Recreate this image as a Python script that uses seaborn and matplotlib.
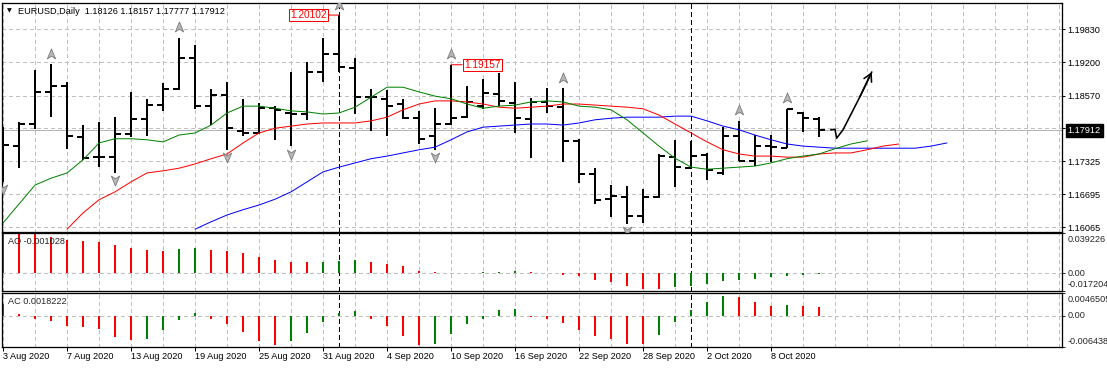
import numpy as np
import pandas as pd
import matplotlib
matplotlib.use("Agg")
import matplotlib.pyplot as plt
import matplotlib.transforms as mtransforms
from matplotlib.path import Path
import seaborn as sns

# ---------------- data ----------------
symbol_title = "EURUSD,Daily"
last_ohlc = ["1.18126", "1.18157", "1.17777", "1.17912"]

opens = [1.1773, 1.1761, 1.1803, 1.1864, 1.1875, 1.1778, 1.1740, 1.1740, 1.1784, 1.1813,
         1.1839, 1.1870, 1.1929, 1.1837, 1.1858, 1.1790, 1.1786, 1.1833, 1.1824, 1.1822,
         1.1902, 1.1936, 1.1910, 1.1854, 1.1851, 1.1841, 1.1814, 1.1780, 1.1803, 1.1816,
         1.1837, 1.1860, 1.1843, 1.1813, 1.1845, 1.1835, 1.1771, 1.1708, 1.1660, 1.1664,
         1.1628, 1.1664, 1.1740, 1.1719, 1.1744, 1.1710, 1.1780, 1.1733, 1.1761, 1.1757,
         1.1824, 1.18126]
highs = [1.1797, 1.1807, 1.1906, 1.1917, 1.1883, 1.1801, 1.1807, 1.1816, 1.1864, 1.1851,
         1.1881, 1.1967, 1.1953, 1.1870, 1.1883, 1.1851, 1.1843, 1.1837, 1.1902, 1.1921,
         1.1967, 1.20102, 1.1929, 1.1870, 1.1868, 1.1851, 1.1828, 1.1833, 1.19157, 1.1875,
         1.1889, 1.1900, 1.1883, 1.1853, 1.1871, 1.1871, 1.1775, 1.1719, 1.1687, 1.1685,
         1.1679, 1.1746, 1.1773, 1.1771, 1.1748, 1.1797, 1.1809, 1.1782, 1.1782, 1.1832,
         1.1826, 1.18157]
lows = [1.1693, 1.1719, 1.1794, 1.1816, 1.1756, 1.1735, 1.1721, 1.1710, 1.1778, 1.1780,
        1.1828, 1.1868, 1.1832, 1.1801, 1.1754, 1.1780, 1.1784, 1.1773, 1.1761, 1.1811,
        1.1883, 1.1902, 1.1822, 1.1790, 1.1780, 1.1813, 1.1765, 1.1754, 1.1801, 1.1814,
        1.1832, 1.1837, 1.1786, 1.1738, 1.1824, 1.1731, 1.1691, 1.1651, 1.1626, 1.1613,
        1.1615, 1.1662, 1.1683, 1.1719, 1.1696, 1.1706, 1.1733, 1.1723, 1.1731, 1.1757,
        1.1788, 1.17777]
closes = [1.1763, 1.1803, 1.1864, 1.1875, 1.1780, 1.1738, 1.1740, 1.1784, 1.1813, 1.1839,
          1.1870, 1.1929, 1.1837, 1.1858, 1.1795, 1.1786, 1.1833, 1.1830, 1.1822, 1.1902,
          1.1936, 1.1911, 1.1854, 1.1854, 1.1837, 1.1814, 1.1775, 1.1803, 1.1814, 1.1845,
          1.1862, 1.1847, 1.1814, 1.1845, 1.1837, 1.1771, 1.1708, 1.1659, 1.1666, 1.1628,
          1.1664, 1.1742, 1.1721, 1.1742, 1.1716, 1.1780, 1.1733, 1.1761, 1.1759, 1.1832,
          1.1814, 1.17912]

# Alligator lines (value per bar index, starting at the given bar)
lips_start = 0
lips = [1.1615, 1.1651, 1.1687, 1.1700, 1.1710, 1.1735, 1.1767, 1.1775, 1.1775, 1.1773,
        1.1769, 1.1782, 1.1786, 1.1801, 1.1824, 1.1837, 1.1837, 1.1833, 1.1828, 1.1826,
        1.1822, 1.1824, 1.1835, 1.1854, 1.1873, 1.1873, 1.1864, 1.1856, 1.1851, 1.1841,
        1.1833, 1.1837, 1.1839, 1.1845, 1.1847, 1.1845, 1.1837, 1.1835, 1.1830, 1.1811,
        1.1786, 1.1761, 1.1738, 1.1721, 1.1717, 1.1719, 1.1721, 1.1723, 1.1729, 1.1737,
        1.1742, 1.1746, 1.1756, 1.1765, 1.1771]
teeth_start = 4
teeth = [1.1603, 1.1634, 1.1659, 1.1674, 1.1693, 1.1710, 1.1714, 1.1719, 1.1727, 1.1737,
         1.1746, 1.1767, 1.1786, 1.1795, 1.1799, 1.1803, 1.1805, 1.1805, 1.1805, 1.1809,
         1.1816, 1.1830, 1.1841, 1.1847, 1.1847, 1.1845, 1.1841, 1.1835, 1.1833, 1.1835,
         1.1837, 1.1841, 1.1841, 1.1839, 1.1837, 1.1835, 1.1832, 1.1820, 1.1803, 1.1786,
         1.1769, 1.1754, 1.1746, 1.1742, 1.1742, 1.1740, 1.1740, 1.1746, 1.1748, 1.1748,
         1.1754, 1.1761, 1.1765]
jaw_start = 12
jaw = [1.1603, 1.1617, 1.1630, 1.1640, 1.1649, 1.1660, 1.1674, 1.1693, 1.1712, 1.1721,
       1.1729, 1.1737, 1.1742, 1.1748, 1.1754, 1.1759, 1.1773, 1.1788, 1.1797, 1.1799,
       1.1801, 1.1803, 1.1803, 1.1801, 1.1805, 1.1811, 1.1814, 1.1816, 1.1816, 1.1816,
       1.1818, 1.1818, 1.1809, 1.1799, 1.1792, 1.1782, 1.1773, 1.1765, 1.1761, 1.1759,
       1.1757, 1.1757, 1.1757, 1.1757, 1.1757, 1.1757, 1.1761, 1.1767]

fractals_up = [3, 11, 21, 28, 35, 46, 49]
fractals_down = [0, 7, 14, 18, 27, 39]

ao = [0.0410, 0.0400, 0.0392, 0.0352, 0.0320, 0.0310, 0.0300, 0.0271, 0.0245, 0.0222,
      0.0218, 0.0232, 0.0245, 0.0222, 0.0212, 0.0193, 0.0156, 0.0124, 0.0113, 0.0104,
      0.0113, 0.0123, 0.0126, 0.0113, 0.0091, 0.0065, 0.0025, 0.0008, 0.0004, 0.0005,
      0.0007, 0.0011, 0.0024, 0.0015, 0.0005, -0.0016, -0.0033, -0.0065, -0.0085, -0.0124,
      -0.0153, -0.0156, -0.0140, -0.0124, -0.0104, -0.0075, -0.0065, -0.0055, -0.0042, -0.0032,
      -0.0020, -0.001028]
ac = [0.0024, 0.0004, -0.0006, -0.0010, -0.0022, -0.0024, -0.0028, -0.0043, -0.0049, -0.0047,
      -0.0030, -0.0008, 0.0006, -0.0006, -0.0018, -0.0033, -0.0051, -0.0059, -0.0051, -0.0035,
      -0.0014, 0.0006, 0.0009, -0.0006, -0.0022, -0.0041, -0.0059, -0.0057, -0.0037, -0.0018,
      -0.0006, 0.0011, 0.0013, -0.0002, -0.0006, -0.0016, -0.0030, -0.0041, -0.0047, -0.0057,
      -0.0058, -0.0039, -0.0014, 0.0012, 0.0028, 0.0039, 0.0037, 0.0028, 0.0020, 0.0021,
      0.0020, 0.0018222]
ao_label = "AO -0.001028"
ac_label = "AC 0.0018222"
ao_range = [-0.017204, 0.039226]
ac_range = [-0.006438, 0.0046505]
ao_range_labels = ["-0.017204", "0.039226"]
ac_range_labels = ["-0.006438", "0.0046505"]

price_ticks = [1.19830, 1.19200, 1.18570, 1.179475, 1.17325, 1.16695, 1.16065]
price_tick_labels = ["1.19830", "1.19200", "1.18570", "", "1.17325", "1.16695", "1.16065"]
price_range = [1.15982, 1.20337]
bid_price = 1.17912

date_labels = ["3 Aug 2020", "7 Aug 2020", "13 Aug 2020", "19 Aug 2020", "25 Aug 2020",
               "31 Aug 2020", "4 Sep 2020", "10 Sep 2020", "16 Sep 2020", "22 Sep 2020",
               "28 Sep 2020", "2 Oct 2020", "8 Oct 2020"]
month_separators = [21, 43]
price_marks = [(21, 1.20102, "1.20102", -31), (28, 1.19157, "1.19157", 31)]

# hand-drawn forecast arrow (bar index, price)
arrow_x = [51.73, 52.0, 52.1, 52.5, 53.04, 53.56, 54.3]
arrow_y = [1.1792, 1.1793, 1.1776, 1.1792, 1.1824, 1.1855, 1.1902]

# ---------------- style ----------------
sns.set_theme(style="white")
plt.rcParams['font.family'] = ['Liberation Sans', 'DejaVu Sans']
plt.rcParams['lines.scale_dashes'] = False

PX = 0.72  # points per pixel at dpi 100
W_PX, H_PX = 1107, 368
FS = 6.6
GRID_C = '#c0c0c0'
DASH = (0, (2.2, 2.2))

fig = plt.figure(figsize=(W_PX / 100, H_PX / 100), dpi=100)
fig.patch.set_facecolor('white')


def rect(top, bottom, left=1.5, right=1061.7):
    return [left / W_PX, 1 - bottom / H_PX, (right - left) / W_PX, (bottom - top) / H_PX]


ax = fig.add_axes(rect(2.7, 231.7))
ax_ao = fig.add_axes(rect(233.0, 290.7))
ax_ac = fig.add_axes(rect(292.7, 347.3))
axes = [ax, ax_ao, ax_ac]

n = len(opens)
bars = np.arange(n)
XMAX = 66.17

for a in axes:
    a.set_facecolor('white')
    a.set_xlim(-0.1, XMAX)
    for s in a.spines.values():
        s.set_color('black')
        s.set_linewidth(1.3 * PX)
    a.set_xticks(np.arange(0, 49, 4))
    a.set_xticks(np.arange(0, 67, 2), minor=True)
    a.grid(False)
    for gx in np.arange(0, 67, 2):
        a.axvline(gx, color=GRID_C, lw=1 * PX, ls=DASH, zorder=0.5, antialiased=False)
    for sx in month_separators:
        a.axvline(sx, color='black', lw=1 * PX, ls=(0, (2.9, 2.2)), zorder=1.2, antialiased=False)

# ---------------- main price panel ----------------
ax.set_ylim(*price_range)
for gy in price_ticks:
    ax.axhline(gy, color=GRID_C, lw=1 * PX, ls=DASH, zorder=0.5, antialiased=False)
ax.axhline(bid_price, color='#b4b4b4', lw=1 * PX, zorder=0.6, antialiased=False)

ax.vlines(bars, lows, highs, color='black', lw=2 * PX, capstyle='butt', zorder=2, antialiased=False)
ax.hlines(opens, bars - 0.36, bars, color='black', lw=2 * PX, capstyle='butt', zorder=2, antialiased=False)
ax.hlines(closes, bars, bars + 0.36, color='black', lw=2 * PX, capstyle='butt', zorder=2, antialiased=False)

for vals, start, col in [(jaw, jaw_start, '#0000ff'), (teeth, teeth_start, '#ff0000'), (lips, lips_start, '#008000')]:
    d = pd.DataFrame({'bar': np.arange(start, start + len(vals)), 'v': vals})
    sns.lineplot(data=d, x='bar', y='v', color=col, lw=1.0 * PX, ax=ax, legend=False, zorder=3)
ax.set_xlabel('')
ax.set_ylabel('')

# fractal arrows
up_path = Path([(0, 1), (0.75, -0.8), (0, -0.3), (-0.75, -0.8), (0, 1)],
               [Path.MOVETO, Path.LINETO, Path.LINETO, Path.LINETO, Path.CLOSEPOLY])
down_path = Path([(0, -1), (0.75, 0.8), (0, 0.3), (-0.75, 0.8), (0, -1)],
                 [Path.MOVETO, Path.LINETO, Path.LINETO, Path.LINETO, Path.CLOSEPOLY])
tr_up = mtransforms.offset_copy(ax.transData, fig=fig, x=0, y=10.5, units='dots')
tr_dn = mtransforms.offset_copy(ax.transData, fig=fig, x=0, y=-7.5, units='dots')
ax.plot(fractals_up, [highs[i] for i in fractals_up], ls='none', marker=up_path, ms=8,
        mfc='#b8b8b8', mec='#7a7a7a', mew=0.6, transform=tr_up, zorder=4)
ax.plot(fractals_down, [lows[i] for i in fractals_down], ls='none', marker=down_path, ms=8,
        mfc='#b8b8b8', mec='#7a7a7a', mew=0.6, transform=tr_dn, zorder=4)

# price labels at extremes
for bx, py, txt, off in price_marks:
    ax.annotate(txt, xy=(bx, py), xytext=(off, 0), textcoords='offset pixels',
                ha='center', va='center', fontsize=7.3, color='#ff0000', zorder=5,
                bbox=dict(boxstyle='square,pad=0.12', fc='white', ec='#ff0000', lw=1 * PX),
                arrowprops=dict(arrowstyle='-', color='#ff0000', lw=1 * PX, shrinkA=0, shrinkB=0))

# hand-drawn arrow
ax.plot(arrow_x, arrow_y, color='black', lw=1.6 * PX, zorder=5, solid_capstyle='round')
ax.annotate('', xy=(arrow_x[-1], arrow_y[-1]), xytext=(arrow_x[-2], arrow_y[-2]),
            arrowprops=dict(arrowstyle='->,head_length=0.55,head_width=0.3', color='black',
                            lw=1.6 * PX, shrinkA=0, shrinkB=0, mutation_scale=10), zorder=5)

ax.yaxis.tick_right()
ax.set_yticks(price_ticks)
ax.set_yticklabels(price_tick_labels)
ax.tick_params(axis='y', which='major', direction='out', length=3 * PX, width=1 * PX,
               pad=3 * PX, labelsize=FS, right=True, left=False, colors='black')
ax.tick_params(axis='x', which='both', length=0, labelbottom=False)

# current price box
ax.annotate(f"{bid_price:.5f}", xy=(1, bid_price), xycoords=('axes fraction', 'data'),
            xytext=(6, 0), textcoords='offset pixels', ha='left', va='center',
            fontsize=FS, color='white', annotation_clip=False,
            bbox=dict(boxstyle='square,pad=0.2', fc='black', ec='black'))

# header
ax.annotate('\u25BC', xy=(0, 1), xycoords='axes fraction', xytext=(7.5, -8.3),
            textcoords='offset pixels', ha='center', va='center', fontsize=4.5,
            color='black', family='DejaVu Sans')
ax.annotate(symbol_title + "  " + " ".join(last_ohlc), xy=(0, 1), xycoords='axes fraction',
            xytext=(16.5, -8.3), textcoords='offset pixels', ha='left', va='center',
            fontsize=FS, color='black')

# ---------------- AO / AC panels ----------------
def osc_panel(a, vals, rng, rng_labels, label):
    a.set_ylim(*rng)
    cols = ['#ff0000'] + ['#008000' if vals[i] > vals[i - 1] else '#ff0000' for i in range(1, len(vals))]
    a.vlines(bars, 0, vals, colors=cols, lw=2 * PX, capstyle='butt', zorder=2, antialiased=False)
    a.axhline(0, color=GRID_C, lw=1 * PX, ls=DASH, zorder=0.5, antialiased=False)
    a.yaxis.tick_right()
    a.set_yticks([rng[0], 0, rng[1]])
    a.set_yticklabels(['', '', ''])
    a.tick_params(axis='y', direction='out', length=3 * PX, width=1 * PX, right=True, left=False)
    bt = mtransforms.blended_transform_factory(a.transAxes, a.transData)
    a.annotate(rng_labels[1], xy=(1, rng[1]), xycoords=bt, xytext=(6, -7), textcoords='offset pixels',
               ha='left', va='center', fontsize=FS, annotation_clip=False)
    a.annotate("0.00", xy=(1, 0), xycoords=bt, xytext=(6, 0), textcoords='offset pixels',
               ha='left', va='center', fontsize=FS, annotation_clip=False)
    a.annotate(rng_labels[0], xy=(1, rng[0]), xycoords=bt, xytext=(6, 6), textcoords='offset pixels',
               ha='left', va='center', fontsize=FS, annotation_clip=False)
    a.annotate(label, xy=(0, 1), xycoords='axes fraction', xytext=(6.5, -9),
               textcoords='offset pixels', ha='left', va='center', fontsize=FS, zorder=6)


osc_panel(ax_ao, ao, ao_range, ao_range_labels, ao_label)
osc_panel(ax_ac, ac, ac_range, ac_range_labels, ac_label)

ax_ao.tick_params(axis='x', which='both', length=0, labelbottom=False)
ax_ac.set_xticklabels(date_labels)
ax_ac.tick_params(axis='x', which='major', direction='out', length=3.5 * PX, width=1 * PX,
                  pad=1.5 * PX, labelsize=FS, bottom=True, colors='black')
ax_ac.tick_params(axis='x', which='minor', length=0)
for t in ax_ac.get_xticklabels():
    t.set_ha('left')

fig.savefig('out.png', dpi=100, facecolor='white')
